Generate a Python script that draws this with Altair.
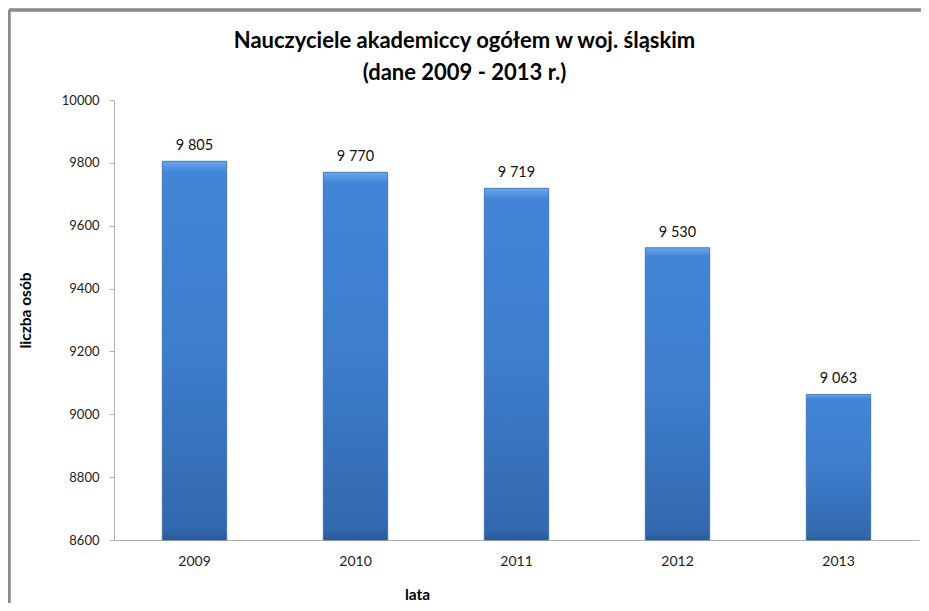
import altair as alt
import pandas as pd

years = ["2009", "2010", "2011", "2012", "2013"]
values = [9805, 9770, 9719, 9530, 9063]
y_ticks = [8600, 8800, 9000, 9200, 9400, 9600, 9800, 10000]
y_min = 8600
y_max = 10000

df = pd.DataFrame({
    "rok": years,
    "liczba": values,
    "etykieta": [f"{v:,}".replace(",", " ") for v in values],
})

FONT = "Lato"

x_axis = alt.Axis(
    title="lata",
    titleFont=FONT,
    titleFontSize=15.5,
    titleFontWeight="bold",
    titleColor="#000000",
    titleX=303,
    titleY=54,
    titleBaseline="middle",
    labelAngle=0,
    labelFont=FONT,
    labelFontSize=14,
    labelColor="#222222",
    labelPadding=14,
    ticks=False,
    domainColor="#b0b0b0",
    grid=False,
)
y_axis = alt.Axis(
    title="liczba osób",
    titleFont=FONT,
    titleFontSize=15.5,
    titleFontWeight="bold",
    titleColor="#000000",
    titleX=-89,
    titleY=210,
    titleAngle=-90,
    titleAlign="center",
    titleBaseline="middle",
    values=y_ticks,
    format="d",
    labelFont=FONT,
    labelFontSize=13,
    labelColor="#222222",
    labelPadding=10,
    tickSize=5,
    tickColor="#b0b0b0",
    domainColor="#b0b0b0",
    grid=False,
)
x_scale = alt.Scale(paddingInner=0.6, paddingOuter=0.3)
y_scale = alt.Scale(domain=[y_min, y_max], nice=False, zero=False)

base = alt.Chart(df)

bars = base.mark_bar(
    stroke="#35689f",
    strokeWidth=0.8,
    fill=alt.Gradient(
        gradient="linear",
        x1=0, x2=0, y1=0, y2=1,
        stops=[
            alt.GradientStop(color="#6aa6ee", offset=0),
            alt.GradientStop(color="#4285d6", offset=0.03),
            alt.GradientStop(color="#3d7dcc", offset=0.5),
            alt.GradientStop(color="#3268ad", offset=0.97),
            alt.GradientStop(color="#2b5a96", offset=1),
        ],
    ),
).encode(
    x=alt.X("rok:N", sort=years, scale=x_scale, axis=x_axis),
    y=alt.Y("liczba:Q", scale=y_scale, axis=y_axis),
    y2=alt.Y2(datum=y_min),
)

labels = base.mark_text(
    baseline="bottom",
    dy=-8,
    font=FONT,
    fontSize=14.5,
    color="#111111",
).encode(
    x=alt.X("rok:N", sort=years, scale=x_scale, axis=x_axis),
    y=alt.Y("liczba:Q", scale=y_scale, axis=y_axis),
    text="etykieta:N",
)

# outer chart border (left and top)
border_left = alt.Chart(df).mark_rule(color="#8a8a8a", strokeWidth=2.5).encode(
    x=alt.value(-105), x2=alt.value(-105), y=alt.value(-90), y2=alt.value(520)
)
border_top = alt.Chart(df).mark_rule(color="#8a8a8a", strokeWidth=2.5).encode(
    x=alt.value(-105), x2=alt.value(810), y=alt.value(-90), y2=alt.value(-90)
)
# white cover over the plot frame on top and right (reference has none)
cover_top = alt.Chart(df).mark_rule(color="white", strokeWidth=3).encode(
    x=alt.value(1.5), x2=alt.value(809), y=alt.value(0), y2=alt.value(0)
)
cover_right = alt.Chart(df).mark_rule(color="white", strokeWidth=3).encode(
    x=alt.value(805), x2=alt.value(805), y=alt.value(-2), y2=alt.value(437)
)

chart = alt.layer(bars, labels, border_left, border_top, cover_top, cover_right).properties(
    width=805,
    height=440,
    background="white",
    view=alt.ViewBackground(stroke="transparent", strokeWidth=0),
    autosize=alt.AutoSizeParams(type="none"),
    padding={"left": 106, "top": 92, "right": 2, "bottom": 63},
    title=alt.TitleParams(
        text=["Nauczyciele akademiccy ogółem w woj. śląskim", "(dane 2009 - 2013 r.)"],
        font=FONT,
        fontSize=22,
        fontWeight="bold",
        color="#000000",
        anchor="middle",
        lineHeight=32,
        offset=-76,
        dx=-52,
    ),
).configure_view(stroke="transparent", strokeWidth=0)

chart.save("out.html", embed_options={"renderer": "svg", "actions": False})
